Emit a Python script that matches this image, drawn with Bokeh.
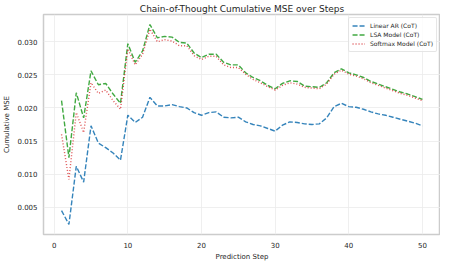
from bokeh.plotting import figure
from bokeh.models import Range1d, FixedTicker, Legend, LegendItem
from bokeh.embed import file_html
from bokeh.resources import INLINE

steps = list(range(1, 51))
linear_ar = [0.0045, 0.0024, 0.0112, 0.0088, 0.0173, 0.0147, 0.0140, 0.0132, 0.0121, 0.0189,
             0.0178, 0.0186, 0.0216, 0.0203, 0.0203, 0.0205, 0.0202, 0.0200, 0.0193, 0.0189,
             0.0193, 0.0194, 0.0186, 0.0185, 0.0186, 0.0179, 0.0175, 0.0173, 0.0169, 0.0165,
             0.0174, 0.0179, 0.0178, 0.0176, 0.0175, 0.0176, 0.0185, 0.0202, 0.0207, 0.0202,
             0.0201, 0.0198, 0.0194, 0.0191, 0.0189, 0.0186, 0.0183, 0.0180, 0.0177, 0.0173]
lsa_model = [0.0211, 0.0125, 0.0223, 0.0185, 0.0256, 0.0235, 0.0237, 0.0221, 0.0207, 0.0297,
             0.0269, 0.0286, 0.0326, 0.0306, 0.0308, 0.0307, 0.0299, 0.0298, 0.0283, 0.0276,
             0.0281, 0.0281, 0.0269, 0.0265, 0.0265, 0.0253, 0.0246, 0.0241, 0.0234, 0.0229,
             0.0237, 0.0241, 0.0240, 0.0233, 0.0232, 0.0231, 0.0238, 0.0253, 0.0259, 0.0253,
             0.0250, 0.0246, 0.0240, 0.0236, 0.0232, 0.0228, 0.0224, 0.0221, 0.0217, 0.0213]
softmax_model = [0.0160, 0.0092, 0.0193, 0.0163, 0.0238, 0.0222, 0.0227, 0.0211, 0.0198, 0.0289,
                 0.0265, 0.0281, 0.0319, 0.0300, 0.0303, 0.0301, 0.0294, 0.0294, 0.0279, 0.0273,
                 0.0278, 0.0278, 0.0265, 0.0261, 0.0261, 0.0251, 0.0243, 0.0238, 0.0232, 0.0227,
                 0.0234, 0.0238, 0.0236, 0.0231, 0.0230, 0.0229, 0.0236, 0.0251, 0.0257, 0.0251,
                 0.0248, 0.0244, 0.0238, 0.0234, 0.0230, 0.0226, 0.0222, 0.0219, 0.0215, 0.0211]
x_ticks = [0, 10, 20, 30, 40, 50]
y_ticks = [0.005, 0.010, 0.015, 0.020, 0.025, 0.030]
series_labels = ["Linear AR (CoT)", "LSA Model (CoT)", "Softmax Model (CoT)"]

FONT = "DejaVu Sans"

p = figure(frame_width=397, frame_height=220, output_backend="svg", toolbar_location=None,
           title="Chain-of-Thought Cumulative MSE over Steps",
           x_range=Range1d(-1.45, 52.45), y_range=Range1d(0.00089, 0.03411),
           min_border_left=35, min_border_right=0, min_border_top=0, min_border_bottom=20)

p.title.text_font = FONT
p.title.text_font_size = "9px"
p.title.text_font_style = "normal"
p.title.text_color = "#262626"
p.title.align = "center"
p.title.standoff = 2

p.outline_line_color = "#cccccc"
p.outline_line_width = 1.5
p.background_fill_color = "white"

for ax in (p.xaxis[0], p.yaxis[0]):
    ax.axis_line_color = None
    ax.major_tick_line_color = None
    ax.minor_tick_line_color = None
    ax.major_tick_in = 0
    ax.major_tick_out = 0
    ax.minor_tick_in = 0
    ax.minor_tick_out = 0
    ax.major_label_text_font = FONT
    ax.major_label_text_font_size = "7px"
    ax.major_label_text_color = "#262626"
    ax.axis_label_text_font = FONT
    ax.axis_label_text_font_size = "7px"
    ax.axis_label_text_font_style = "normal"
    ax.axis_label_text_color = "#262626"

p.xaxis.ticker = FixedTicker(ticks=x_ticks)
p.yaxis.ticker = FixedTicker(ticks=y_ticks)
p.yaxis.major_label_overrides = {t: f"{t:.3f}" for t in y_ticks}
p.xaxis.axis_label = "Prediction Step"
p.yaxis.axis_label = "Cumulative MSE"
p.xaxis.major_label_standoff = 7
p.xaxis.axis_label_standoff = 2
p.yaxis.major_label_standoff = 6
p.yaxis.axis_label_standoff = 3

p.xgrid.grid_line_color = "#ebebeb"
p.ygrid.grid_line_color = "#ebebeb"
p.xgrid.grid_line_width = 0.8
p.ygrid.grid_line_width = 0.8

r1 = p.line(steps, linear_ar, line_color="#1f77b4", line_width=1.4, line_dash="5 2", line_alpha=0.9)
r2 = p.line(steps, lsa_model, line_color="#2ca02c", line_width=1.4, line_dash="5 2", line_alpha=0.9)
r3 = p.line(steps, softmax_model, line_color="#d62728", line_width=1.4, line_dash="1 2", line_alpha=0.8)

legend = Legend(items=[LegendItem(label=series_labels[0], renderers=[r1]),
                       LegendItem(label=series_labels[1], renderers=[r2]),
                       LegendItem(label=series_labels[2], renderers=[r3])],
                location="top_right")
legend.label_text_font = FONT
legend.label_text_font_size = "6px"
legend.label_text_color = "#262626"
legend.glyph_width = 13
legend.glyph_height = 9
legend.label_height = 9
legend.label_standoff = 5
legend.spacing = 0
legend.padding = 3
legend.margin = 3
legend.border_line_color = "#cccccc"
legend.border_line_width = 1
legend.border_radius = 2
legend.background_fill_alpha = 0.8
p.add_layout(legend)

open("out.html", "w").write(file_html(p, INLINE))
